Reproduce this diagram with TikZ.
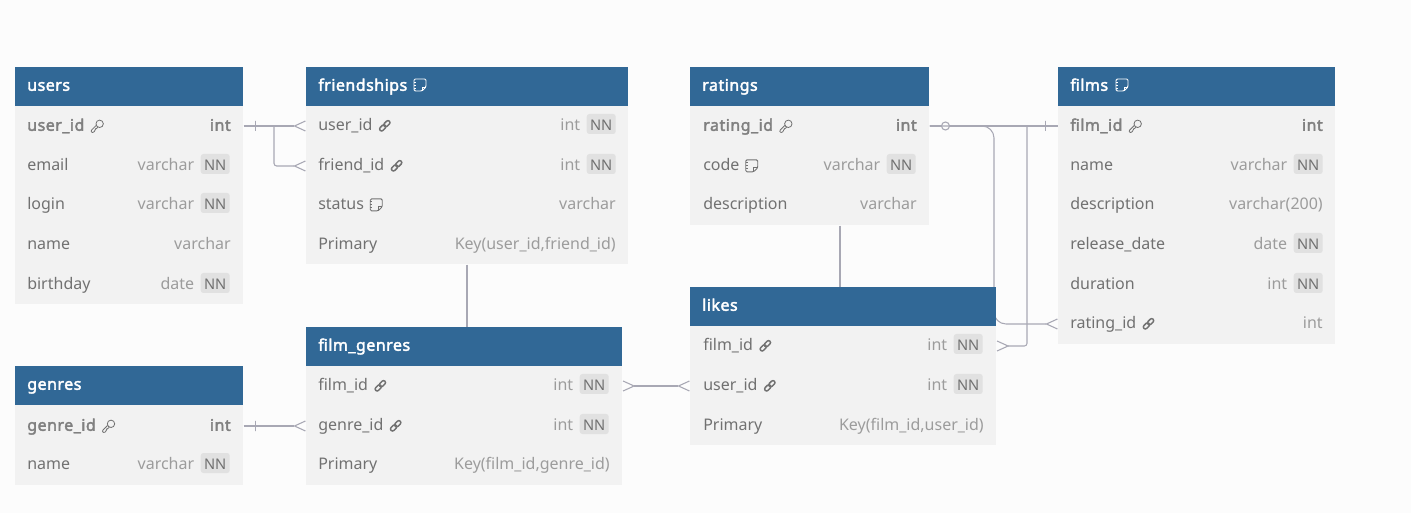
\documentclass[tikz,border=0pt]{standalone}
\usepackage{fontspec}
\setmainfont{Noto Sans}[BoldFont={Noto Sans},BoldFeatures={FakeBold=2.4,LetterSpace=3}]
\usetikzlibrary{arrows.meta,backgrounds,positioning}
\definecolor{fond}{HTML}{FCFCFC}
\definecolor{bleu}{HTML}{316896}
\definecolor{corpsgris}{HTML}{F2F2F2}
\definecolor{badge}{HTML}{E1E1E1}
\definecolor{texte}{HTML}{717171}
\definecolor{texteclair}{HTML}{9C9C9C}
\definecolor{clegras}{HTML}{808080}
\definecolor{trait}{HTML}{A8A8B4}
\tikzset{
  titre/.style={fill=bleu, text=white, font=\fontsize{12}{14}\selectfont\bfseries, anchor=north west,
    text width=#1, align=left, inner xsep=9pt, inner ysep=0pt, text height=9pt, text depth=3pt, minimum height=29.25pt},
  corps/.style={fill=corpsgris, anchor=north west, inner sep=0pt},
  nom/.style={text=texte, font=\fontsize{12}{14}\selectfont, anchor=base west, inner sep=0pt, yshift=-.6pt},
  nomcle/.style={nom, text=clegras, font=\fontsize{12}{14}\selectfont\bfseries},
  typ/.style={text=texteclair, font=\fontsize{12}{14}\selectfont, anchor=base east, inner sep=0pt},
  typcle/.style={typ, yshift=-.6pt, text=clegras, font=\fontsize{12}{14}\selectfont\bfseries},
  nn/.style={fill=badge, text=texte, rounded corners=2pt, font=\fontsize{11}{13}\selectfont, anchor=base east, yshift=-.6pt,
    inner xsep=2pt, inner ysep=.75pt, text height=11.85pt, text depth=1.65pt, minimum width=21.75pt},
  lien/.style={draw=trait, line width=.8pt},
  liengros/.style={draw=trait, line width=1.2pt},
  patte/.style={-{Straight Barb[reversed,length=8.25pt,width=7.5pt,line width=.8pt]}},
  pattes/.style={{Straight Barb[reversed,length=8.25pt,width=7.5pt,line width=.8pt]}-{Straight Barb[reversed,length=8.25pt,width=7.5pt,line width=.8pt]}},
  tiret/.style={draw=trait, line width=.8pt, inner sep=0pt, minimum width=0pt, minimum height=7.5pt},
  rond/.style={draw=trait, fill=fond, line width=.8pt, circle, inner sep=0pt, minimum size=6pt},
  gris/.style={color=texte},
  note/.pic={
    \draw[line width=.7pt, rounded corners=1pt, yshift=3.75pt] (-6,-6) -- (6,-6) -- (6,2) -- (2,6) -- (-6,6) -- cycle;
    \draw[line width=.7pt, yshift=3.75pt] (6,2) -- (2,2) -- (2,6) (-6,-3) -- (-4,-3) (-6,0) -- (-4,0) (-6,3) -- (-4,3);
  },
  cle/.pic={
    \draw[line width=.6pt, yshift=3.75pt, rotate=45, rounded corners=.5pt] (-.8,-1.3) -- (-8,-1.3) -- (-9,0) -- (-8,1.6) -- (-5.5,1.6) -- (-4.5,.8) -- (-.8,1.3);
    \draw[line width=.6pt, yshift=3.75pt, rotate=45] (2.8,0) circle[radius=3.7];
  },
  chaine/.pic={
    \draw[line width=1.1pt, yshift=3.75pt, rotate=45, rounded corners=1.5pt] (-6.5,-2) rectangle (.6,2) (-.6,-2) rectangle (6.5,2);
  },
}
\begin{document}
\begin{tikzpicture}[x=.75pt, y=-.75pt]
\useasboundingbox (0,0) rectangle (1411,513);
% users
\node[corps, minimum width=171pt, minimum height=148.5pt] (ubody) at (15,106) {};
\node[titre=153pt] (users) at (15,67) {users};
\node[nomcle] (uid) at (27,130) {user\_id};
\node[typcle] (uidt) at (231,130) {int};
\pic[gris] at ([xshift=9.75pt]uid.base east) {cle};
\node[nom] (uemail) at (27,170) {email};
\node[nn] (uemailn) at (230,170) {NN};
\node[typ, base left=4.5pt of uemailn] (uemailt) {varchar};
\node[nom] (ulogin) at (27,209) {login};
\node[nn] (uloginn) at (230,209) {NN};
\node[typ, base left=4.5pt of uloginn] (ulogint) {varchar};
\node[nom] (uname) at (27,249) {name};
\node[typ, yshift=-.6pt] (unamet) at (231,249) {varchar};
\node[nom] (ubirth) at (27,289) {birthday};
\node[nn] (ubirthn) at (230,289) {NN};
\node[typ, base left=4.5pt of ubirthn] (ubirtht) {date};
% friendships
\node[corps, minimum width=241.5pt, minimum height=118.5pt] (fbody) at (306,106) {};
\node[titre=223.5pt] (friendships) at (306,67) {friendships};
\pic[white] at (420,90) {note};
\node[nom] (fuid) at (318,130) {user\_id};
\pic[gris] at ([xshift=9pt]fuid.base east) {chaine};
\node[nn] (fuidn) at (616,130) {NN};
\node[typ, base left=4.5pt of fuidn] (fuidt) {int};
\node[nom] (ffid) at (318,170) {friend\_id};
\pic[gris] at ([xshift=9pt]ffid.base east) {chaine};
\node[nn] (ffidn) at (616,170) {NN};
\node[typ, base left=4.5pt of ffidn] (ffidt) {int};
\node[nom] (fstat) at (318,209) {status};
\pic[gris] at ([xshift=9pt]fstat.base east) {note};
\node[typ, yshift=-.6pt] (fstatt) at (616,209) {varchar};
\node[nom] (fprim) at (318,249) {Primary};
\node[typ, yshift=-.6pt] (fprimt) at (616,249) {Key(user\_id,friend\_id)};
% ratings
\node[corps, minimum width=179.25pt, minimum height=89.25pt] (rbody) at (690,106) {};
\node[titre=161.25pt] (ratings) at (690,67) {ratings};
\node[nomcle] (rid) at (703,130) {rating\_id};
\pic[gris] at ([xshift=9.75pt]rid.base east) {cle};
\node[typcle] (ridt) at (917,130) {int};
\node[nom] (rcode) at (703,170) {code};
\pic[gris] at ([xshift=9pt]rcode.base east) {note};
\node[nn] (rcoden) at (916,170) {NN};
\node[typ, base left=4.5pt of rcoden] (rcodet) {varchar};
\node[nom] (rdesc) at (703,209) {description};
\node[typ, yshift=-.6pt] (rdesct) at (917,209) {varchar};
% films
\node[corps, minimum width=207.75pt, minimum height=178.5pt] (fibody) at (1058,106) {};
\node[titre=189.75pt] (films) at (1058,67) {films};
\pic[white] at (1122,90) {note};
\node[nomcle] (fiid) at (1070,130) {film\_id};
\pic[gris] at ([xshift=9.75pt]fiid.base east) {cle};
\node[typcle] (fiidt) at (1323,130) {int};
\node[nom] (finame) at (1070,170) {name};
\node[nn] (finamen) at (1323,170) {NN};
\node[typ, base left=4.5pt of finamen] (finamet) {varchar};
\node[nom] (fidesc) at (1070,209) {description};
\node[typ, yshift=-.6pt] (fidesct) at (1323,209) {varchar(200)};
\node[nom] (firel) at (1070,249) {release\_date};
\node[nn] (fireln) at (1323,249) {NN};
\node[typ, base left=4.5pt of fireln] (firelt) {date};
\node[nom] (fidur) at (1070,289) {duration};
\node[nn] (fidurn) at (1323,289) {NN};
\node[typ, base left=4.5pt of fidurn] (fidurt) {int};
\node[nom] (firat) at (1070,328) {rating\_id};
\pic[gris] at ([xshift=9pt]firat.base east) {chaine};
\node[typ, yshift=-.6pt] (firatt) at (1323,328) {int};
% likes
\node[corps, minimum width=229.5pt, minimum height=89.25pt] (lbody) at (690,326) {};
\node[titre=211.5pt] (likes) at (690,287) {likes};
\node[nom] (lfid) at (703,350) {film\_id};
\pic[gris] at ([xshift=9pt]lfid.base east) {chaine};
\node[nn] (lfidn) at (983,350) {NN};
\node[typ, base left=4.5pt of lfidn] (lfidt) {int};
\node[nom] (luid) at (703,390) {user\_id};
\pic[gris] at ([xshift=9pt]luid.base east) {chaine};
\node[nn] (luidn) at (983,390) {NN};
\node[typ, base left=4.5pt of luidn] (luidt) {int};
\node[nom] (lprim) at (703,430) {Primary};
\node[typ, yshift=-.6pt] (lprimt) at (984,430) {Key(film\_id,user\_id)};
% film_genres
\node[corps, minimum width=237pt, minimum height=89.25pt] (gbody) at (306,366) {};
\node[titre=219pt] (filmgenres) at (306,327) {film\_genres};
\node[nom] (gfid) at (318,390) {film\_id};
\pic[gris] at ([xshift=9pt]gfid.base east) {chaine};
\node[nn] (gfidn) at (609,390) {NN};
\node[typ, base left=4.5pt of gfidn] (gfidt) {int};
\node[nom] (ggid) at (318,430) {genre\_id};
\pic[gris] at ([xshift=9pt]ggid.base east) {chaine};
\node[nn] (ggidn) at (609,430) {NN};
\node[typ, base left=4.5pt of ggidn] (ggidt) {int};
\node[nom] (gprim) at (318,469) {Primary};
\node[typ, yshift=-.6pt] (gprimt) at (610,469) {Key(film\_id,genre\_id)};
% genres
\node[corps, minimum width=171pt, minimum height=60pt] (gebody) at (15,405) {};
\node[titre=153pt] (genres) at (15,366) {genres};
\node[nomcle] (geid) at (27,430) {genre\_id};
\pic[gris] at ([xshift=9.75pt]geid.base east) {cle};
\node[typcle] (geidt) at (231,430) {int};
\node[nom] (gename) at (27,469) {name};
\node[nn] (genamen) at (230,469) {NN};
\node[typ, base left=4.5pt of genamen] (genamet) {varchar};
% liens
\coordinate (b1) at (274,126);
\coordinate (b2) at (994,126);
\coordinate (b3) at (1027,126);
\coordinate (v1) at (467,296);
\coordinate (v2) at (840,256);
\begin{scope}[on background layer]
\fill[fond] (0,0) rectangle (1411,513);
\draw[liengros, patte] ([yshift=3.6pt]ubody.east |- uid.base) -- node[tiret, pos=.19] (t1) {} ([yshift=3.6pt]fbody.west |- fuid.base);
\draw[lien, patte, rounded corners=2pt] (b1) |- ([yshift=3.6pt]fbody.west |- ffid.base);
\draw[lien, patte] ([yshift=3.6pt]gebody.east |- geid.base) -- node[tiret, pos=.19] (t2) {} ([yshift=3.6pt]gbody.west |- ggid.base);
\draw[liengros, pattes] ([yshift=3.6pt]gbody.east |- gfid.base) -- ([yshift=3.6pt]lbody.west |- luid.base);
\draw[lien] (v1 |- fbody.south) -- (v1 |- filmgenres.north);
\draw[lien] (v2 |- rbody.south) -- (v2 |- likes.north);
\draw[liengros] ([yshift=3.6pt]rbody.east |- rid.base) -- node[rond, pos=.124] (c1) {} node[tiret, pos=.9] (t3) {} ([yshift=3.6pt]fibody.west |- fiid.base);
\draw[lien, patte, rounded corners=9pt] ([yshift=3.6pt]rbody.east |- rid.base) -- (b2) |- ([yshift=3.6pt]fibody.west |- firat.base);
\draw[lien, patte, rounded corners=2pt] (b3) |- ([yshift=3.6pt]lbody.east |- lfid.base);
\end{scope}
\end{tikzpicture}
\end{document}
